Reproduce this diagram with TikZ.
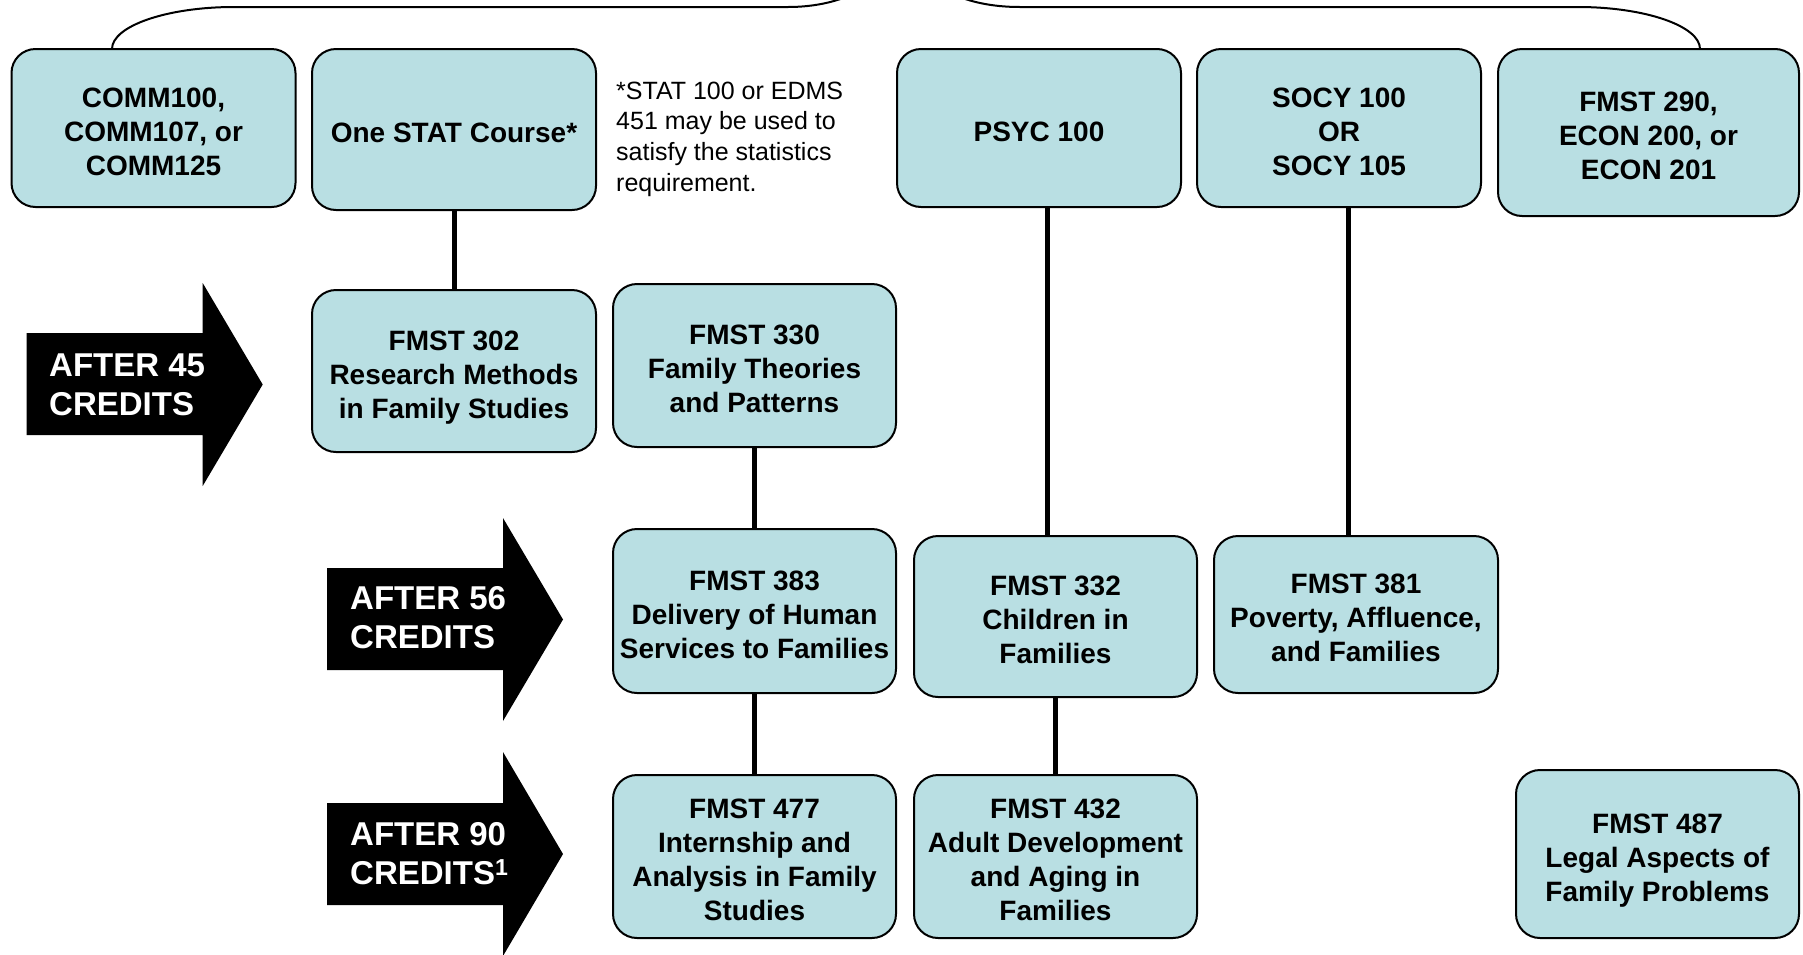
\documentclass[tikz,border=0pt]{standalone}
\usepackage{fontspec}
\setmainfont{Liberation Sans}
\usetikzlibrary{calc}
\definecolor{boxfill}{RGB}{185,223,227}
\newcommand{\topstrut}{\rule{0pt}{26.5pt}}
\begin{document}
\begin{tikzpicture}[x=1pt,y=-1pt,
  course/.style={draw=black, line width=2pt, fill=boxfill, rounded corners=24pt, align=center,
    font=\fontsize{28}{34}\selectfont\bfseries, inner sep=0pt, text depth=0pt},
  conn/.style={line width=5pt},
  bigarrow/.style={fill=black},
  arrowtext/.style={text=white, align=left, anchor=west, font=\fontsize{33}{39}\selectfont\bfseries, inner sep=0pt},
  note/.style={align=left, anchor=west, font=\fontsize{25}{30.7}\selectfont, inner sep=0pt},
  brace/.style={line width=2pt}]
\useasboundingbox (0,0) rectangle (1803,954);
\clip (0,0) rectangle (1803,954);

% brace (clipped at top)
\draw[brace] (112,49) .. controls (112,26) and (167,7) .. (234,7) -- (788,7)
  .. controls (842,7) and (888,-15) .. (903,-60)
  .. controls (918,-15) and (962,7) .. (1020,7) -- (1578,7)
  .. controls (1645,7) and (1700,26) .. (1700,49);

% big arrows
\fill[bigarrow] (26.7,333) -- (202.7,333) -- (202.7,283) -- (262.7,384.5) -- (202.7,486) -- (202.7,435) -- (26.7,435) -- cycle;
\fill[bigarrow] (327,568) -- (503,568) -- (503,518) -- (563,619.5) -- (503,721) -- (503,670) -- (327,670) -- cycle;
\fill[bigarrow] (327,803) -- (503,803) -- (503,752) -- (563,854) -- (503,956) -- (503,905) -- (327,905) -- cycle;
\node[arrowtext] (a45) at (49,384.5) {AFTER 45\\CREDITS};
\node[arrowtext] (a56) at (350,618) {AFTER 56\\CREDITS};
\node[arrowtext] (a90) at (350,854) {AFTER 90\\CREDITS\textsuperscript{1}};

% course boxes
\node[course, minimum width=284pt, minimum height=158pt] (comm) at (153.5,128) {\topstrut COMM100,\\COMM107, or\\COMM125};
\node[course, minimum width=284pt, minimum height=161pt] (stat) at (454,129.5) {\topstrut One STAT Course*};
\node[course, minimum width=284pt, minimum height=158pt] (psyc) at (1039,128) {\topstrut PSYC 100};
\node[course, minimum width=284pt, minimum height=158pt] (socy) at (1339,128) {\topstrut SOCY 100\\OR\\SOCY 105};
\node[course, minimum width=301pt, minimum height=167pt] (f290) at (1648.5,132.5) {\topstrut FMST 290,\\ECON 200, or\\ECON 201};

\node[note] (stnote) at (616,139) {*STAT 100 or EDMS\\451 may be used to\\satisfy the statistics\\requirement.};

\node[course, minimum width=284pt, minimum height=162pt] (f302) at (454,371) {\topstrut FMST 302\\Research Methods\\in Family Studies};
\node[course, minimum width=283pt, minimum height=163pt] (f330) at (754.5,365.5) {\topstrut FMST 330\\Family Theories\\and Patterns};

\node[course, minimum width=283pt, minimum height=164pt] (f383) at (754.5,611) {\topstrut FMST 383\\Delivery of Human\\Services to Families};
\node[course, minimum width=283pt, minimum height=161pt] (f332) at (1055.5,616.5) {\topstrut FMST 332\\Children in\\Families};
\node[course, minimum width=284pt, minimum height=157pt] (f381) at (1356,614.5) {\topstrut FMST 381\\Poverty, Affluence,\\and Families};

\node[course, minimum width=283pt, minimum height=163pt] (f477) at (754.5,856.5) {\topstrut FMST 477\\Internship and\\Analysis in Family\\Studies};
\node[course, minimum width=283pt, minimum height=163pt] (f432) at (1055.5,856.5) {\topstrut FMST 432\\Adult Development\\and Aging in\\Families};
\node[course, minimum width=283pt, minimum height=168pt] (f487) at (1657.5,854) {\topstrut FMST 487\\Legal Aspects of\\Family Problems};

% connectors
\draw[conn] (stat.south) -- (f302.north);
\draw[conn] (f330.south) -- (f383.north);
\draw[conn] (f383.south) -- (f477.north);
\draw[conn] ([xshift=8pt]psyc.south) -- ([xshift=8pt]psyc.south |- f332.north);
\draw[conn] (f332.south) -- (f432.north);
\draw[conn] ([xshift=9pt]socy.south) -- ([xshift=9pt]socy.south |- f381.north);
\end{tikzpicture}
\end{document}
